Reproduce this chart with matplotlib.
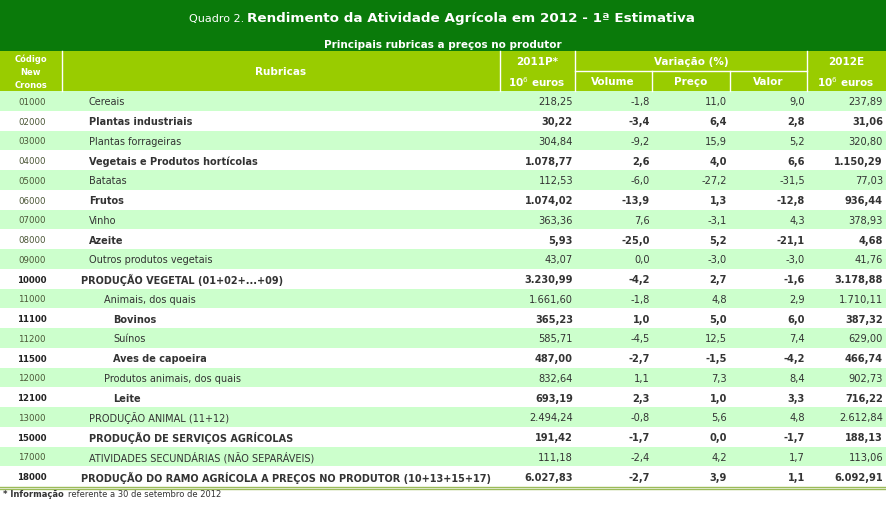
import matplotlib
matplotlib.use("Agg")
import matplotlib.pyplot as plt
from matplotlib.patches import Rectangle

# table data (Quadro 2)
codes = ["01000", "02000", "03000", "04000", "05000", "06000", "07000", "08000",
         "09000", "10000", "11000", "11100", "11200", "11500", "12000", "12100",
         "13000", "15000", "17000", "18000"]
labels = ["Cereais", "Plantas industriais", "Plantas forrageiras",
          "Vegetais e Produtos hortícolas", "Batatas", "Frutos", "Vinho", "Azeite",
          "Outros produtos vegetais", "PRODUÇÃO VEGETAL (01+02+...+09)",
          "Animais, dos quais", "Bovinos", "Suínos", "Aves de capoeira",
          "Produtos animais, dos quais", "Leite", "PRODUÇÃO ANIMAL (11+12)",
          "PRODUÇÃO DE SERVIÇOS AGRÍCOLAS", "ATIVIDADES SECUNDÁRIAS (NÃO SEPARÁVEIS)",
          "PRODUÇÃO DO RAMO AGRÍCOLA A PREÇOS NO PRODUTOR (10+13+15+17)"]
levels = [1, 1, 1, 1, 1, 1, 1, 1, 1, 0, 2, 3, 3, 3, 2, 3, 1, 1, 1, 0]
val_2011 = [218.25, 30.22, 304.84, 1078.77, 112.53, 1074.02, 363.36, 5.93, 43.07,
            3230.99, 1661.60, 365.23, 585.71, 487.00, 832.64, 693.19, 2494.24,
            191.42, 111.18, 6027.83]
volume = [-1.8, -3.4, -9.2, 2.6, -6.0, -13.9, 7.6, -25.0, 0.0, -4.2, -1.8, 1.0,
          -4.5, -2.7, 1.1, 2.3, -0.8, -1.7, -2.4, -2.7]
preco = [11.0, 6.4, 15.9, 4.0, -27.2, 1.3, -3.1, 5.2, -3.0, 2.7, 4.8, 5.0, 12.5,
         -1.5, 7.3, 1.0, 5.6, 0.0, 4.2, 3.9]
valor = [9.0, 2.8, 5.2, 6.6, -31.5, -12.8, 4.3, -21.1, -3.0, -1.6, 2.9, 6.0, 7.4,
         -4.2, 8.4, 3.3, 4.8, -1.7, 1.7, 1.1]
val_2012 = [237.89, 31.06, 320.80, 1150.29, 77.03, 936.44, 378.93, 4.68, 41.76,
            3178.88, 1710.11, 387.32, 629.00, 466.74, 902.73, 716.22, 2612.84,
            188.13, 113.06, 6092.91]


def fmt(v, nd):
    s = f"{v:,.{nd}f}"
    return s.replace(",", "X").replace(".", ",").replace("X", ".")


DARK = "#0a7a0a"
HEAD = "#99cc00"
LIGHT = "#ccffcc"
TXT = "#333333"
CODE = "#4a5535"

plt.rcParams["font.family"] = ["DejaVu Sans"]
fig = plt.figure(figsize=(8.87, 5.06), dpi=100)
ax = fig.add_axes([0, 0, 1, 1])
ax.set_xlim(0, 887)
ax.set_ylim(506, 0)
ax.axis("off")

W = 886
# title band
ax.add_patch(Rectangle((0, 1), W, 51, color=DARK, lw=0))
ax.text(244, 19, "Quadro 2.", color="white", fontsize=8, ha="right", va="center")
ax.text(247, 18, "Rendimento da Atividade Agrícola em 2012 - 1ª Estimativa",
        color="white", fontsize=9.7, fontweight="bold", ha="left", va="center")
ax.text(443, 45, "Principais rubricas a preços no produtor", color="white",
        fontsize=7.5, fontweight="bold", ha="center", va="center")

# header band
ax.add_patch(Rectangle((0, 52), W, 40, color=HEAD, lw=0))
for x in [62, 500, 575, 807]:
    ax.plot([x, x], [52, 92], color="white", lw=1)
for x in [652, 730]:
    ax.plot([x, x], [72, 92], color="white", lw=1)
ax.plot([575, 807], [72, 72], color="white", lw=1)
hkw = dict(color="white", fontweight="bold", ha="center", va="center")
for y, t in zip([59, 72, 85], ["Código", "New", "Cronos"]):
    ax.text(31, y, t, fontsize=6, **hkw)
ax.text(281, 72, "Rubricas", fontsize=7.5, **hkw)
ax.text(537, 62, "2011P*", fontsize=7.5, **hkw)
ax.text(537, 82, "10$^6$ euros", fontsize=7.5, **hkw)
ax.text(691, 62, "Variação (%)", fontsize=7.5, **hkw)
ax.text(613, 82, "Volume", fontsize=7.5, **hkw)
ax.text(691, 82, "Preço", fontsize=7.5, **hkw)
ax.text(768, 82, "Valor", fontsize=7.5, **hkw)
ax.text(846, 62, "2012E", fontsize=7.5, **hkw)
ax.text(846, 82, "10$^6$ euros", fontsize=7.5, **hkw)

# body rows
top, rh = 92, 19.75
indent = {0: 81, 1: 89, 2: 104, 3: 113}
num_right = [573, 650, 727, 805, 883]
for i in range(len(codes)):
    y0 = top + i * rh
    yc = y0 + rh / 2 + 0.5
    if i % 2 == 0:
        ax.add_patch(Rectangle((0, y0), W, rh, color=LIGHT, lw=0))
    bold = i % 2 == 1
    fw = "bold" if bold else "normal"
    code_bold = bold and int(codes[i]) >= 10000
    ax.text(32, yc, codes[i], fontsize=6.2, ha="center", va="center",
            color="#222222" if code_bold else CODE,
            fontweight="bold" if code_bold else "normal")
    ax.text(indent[levels[i]], yc, labels[i], fontsize=7.0, ha="left",
            va="center", color=TXT, fontweight=fw)
    vals = [fmt(val_2011[i], 2), fmt(volume[i], 1), fmt(preco[i], 1),
            fmt(valor[i], 1), fmt(val_2012[i], 2)]
    for xr, s in zip(num_right, vals):
        ax.text(xr, yc, s, fontsize=7.1, ha="right", va="center", color=TXT,
                fontweight=fw)

bottom = top + len(codes) * rh
ax.plot([0, W], [bottom + 0.5, bottom + 0.5], color="#9bbb59", lw=1)
ax.plot([0, W], [bottom + 2.5, bottom + 2.5], color="#9bbb59", lw=1)

# footnote
ax.text(3, 495, "* Informação", fontsize=6, fontweight="bold", color=TXT,
        ha="left", va="center")
ax.text(68, 495, "referente a 30 de setembro de 2012", fontsize=6, color=TXT,
        ha="left", va="center")

fig.savefig("out.png", dpi=100)
